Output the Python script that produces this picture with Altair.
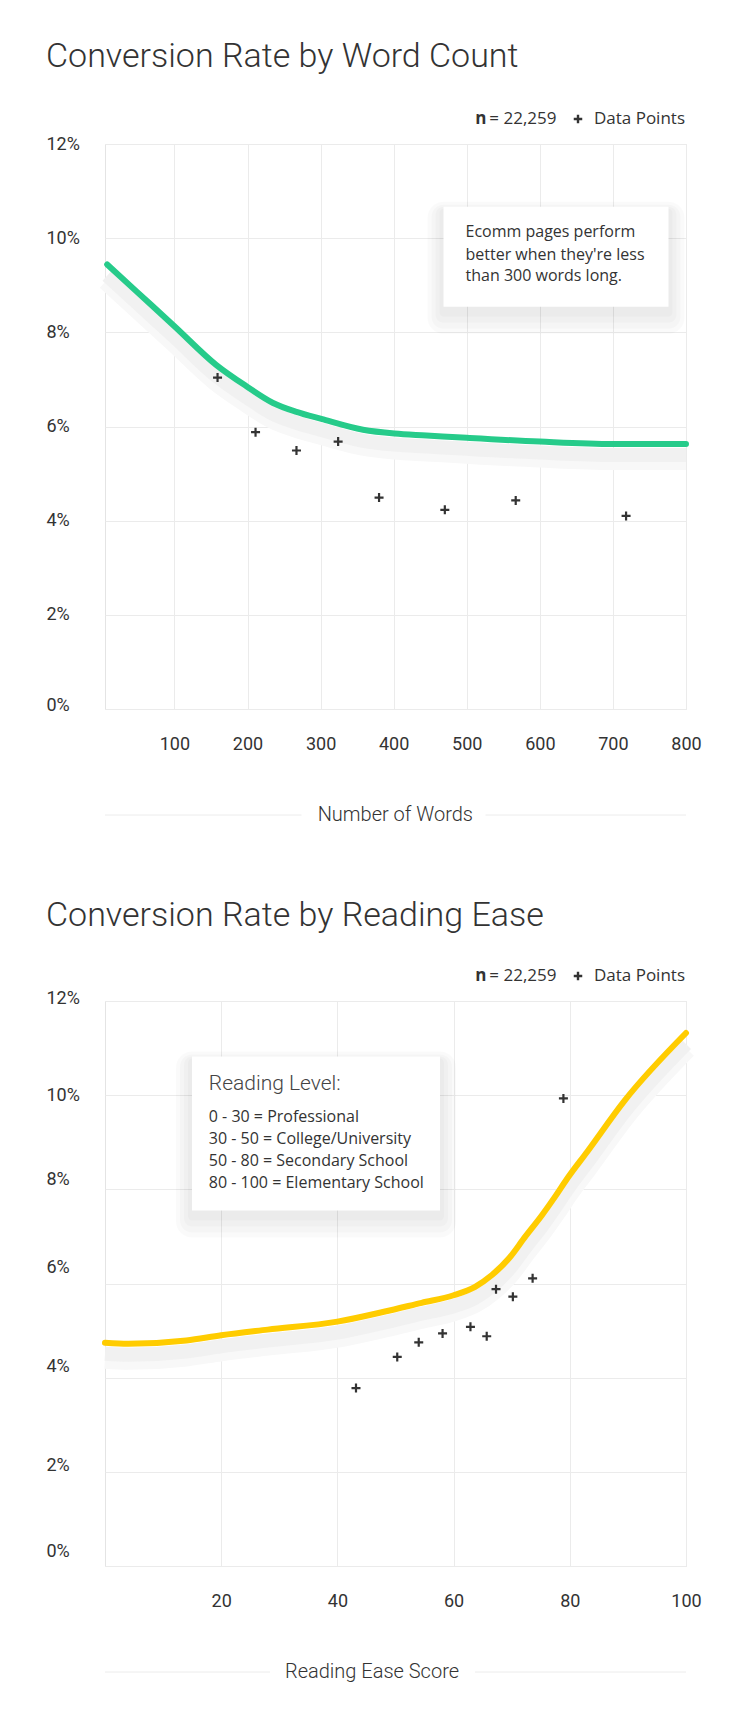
import altair as alt
import pandas as pd

# ---------------- data ----------------
# Chart 1: conversion rate (%) by word count
wc_curve_words = [8, 48, 100, 157, 199, 235, 267, 301, 358, 401, 445, 500, 600, 700, 800]
wc_curve_rate = [9.44, 8.87, 8.13, 7.31, 6.85, 6.50, 6.31, 6.16, 5.93, 5.85, 5.81, 5.76, 5.68, 5.63, 5.63]
wc_point_words = [159, 211, 267, 324, 380, 470, 567, 718]
wc_point_rate = [7.04, 5.88, 5.49, 5.68, 4.49, 4.23, 4.43, 4.10]
wc_ticks = [100, 200, 300, 400, 500, 600, 700, 800]

# Chart 2: conversion rate (%) by reading ease score
re_curve_score = [0, 4, 14, 20, 28, 40, 48, 54.5, 60, 63.7, 66.6, 69.5, 72.3, 75.2, 77.5, 79.5, 83, 89.4, 100]
re_curve_rate = [4.74, 4.72, 4.79, 4.90, 5.02, 5.19, 5.40, 5.59, 5.75, 5.93, 6.18, 6.53, 6.99, 7.45, 7.85, 8.22, 8.80, 9.88, 11.32]
re_point_score = [43.2, 50.3, 54.0, 58.1, 62.9, 65.7, 67.3, 70.2, 73.6, 78.9]
re_point_rate = [3.78, 4.44, 4.75, 4.94, 5.08, 4.88, 5.88, 5.72, 6.11, 9.93]
re_ticks = [20, 40, 60, 80, 100]

rate_ticks = [0, 2, 4, 6, 8, 10, 12]

titles = ["Conversion Rate by Word Count", "Conversion Rate by Reading Ease"]
x_titles = ["Number of Words", "Reading Ease Score"]
sample_label = "= 22,259"
legend_label = "Data Points"
note1_lines = ["Ecomm pages perform", "better when they're less", "than 300 words long."]
note2_head = "Reading Level:"
note2_lines = ["0 - 30 = Professional", "30 - 50 = College/University",
               "50 - 80 = Secondary School", "80 - 100 = Elementary School"]

# ---------------- style ----------------
W, H = 581, 565
TFONT = "Roboto"
BFONT = "Open Sans"
TXT = "#333333"
GRID = "#ebebeb"
CROSS = "M-1,0H1M0,-1V1"
GREEN = "#26CB8A"
YELLOW = "#FFCC00"

one = pd.DataFrame({"k": [0]})


def offset_cond(d):
    return {"condition": [{"test": f"datum.value === {k}", "value": v} for k, v in d.items()],
            "value": 0}


def txt(text, x, y, size, font=BFONT, weight="normal", align="left", baseline="middle", color=TXT):
    return alt.Chart(one).mark_text(
        text=text, font=font, fontSize=size, fontWeight=weight, align=align,
        baseline=baseline, color=color
    ).encode(x=alt.value(x), y=alt.value(y))


def rect(x1, x2, y1, y2, color, opacity=1.0, radius=0):
    return alt.Chart(one).mark_rect(color=color, opacity=opacity, cornerRadius=radius).encode(
        x=alt.value(x1), x2=alt.value(x2), y=alt.value(y1), y2=alt.value(y2))


def hrule(x1, x2, y):
    return alt.Chart(one).mark_rule(color="#ececec", strokeWidth=1).encode(
        x=alt.value(x1), x2=alt.value(x2), y=alt.value(y))


def box(x1, x2, y1, y2):
    layers = []
    for grow, dy in [(16, 11), (12, 10), (8, 8), (4, 6)]:
        layers.append(rect(x1 - grow, x2 + grow, y1 - grow + dy, y2 + grow + dy,
                           "#000000", 0.02, grow))
    layers.append(rect(x1, x2, y1, y2, "#ffffff"))
    return layers


def panel(title, title_y, cx, cy, px, py, xdomain, xticks, xtitle, xtitle_x, gaps,
          color, label_offsets, note_layers):
    curve = pd.DataFrame({"x": cx, "y": cy})
    pts = pd.DataFrame({"x": px, "y": py})
    xs = alt.Scale(domain=xdomain, nice=False, zero=False)
    ys = alt.Scale(domain=[0, 12], nice=False)
    xax = alt.Axis(values=xticks, grid=True, gridColor=GRID, domain=False, ticks=False,
                   labelPadding=35, labelBaseline="middle", labelFont=TFONT, labelFontSize=18,
                   labelColor=TXT, labelFlush=False, labelOverlap=False, title=None)
    yax = alt.Axis(values=rate_ticks, grid=True, gridColor=GRID, domain=False, ticks=False,
                   labelAlign="left", labelPadding=59, labelBaseline="middle",
                   labelExpr="datum.value + '%'", labelFont=TFONT, labelFontSize=18,
                   labelColor=TXT, labelOverlap=False, labelOffset=offset_cond(label_offsets),
                   title=None)
    X = alt.X("x:Q", scale=xs, axis=xax)
    Y = alt.Y("y:Q", scale=ys, axis=yax)
    base = alt.Chart(curve).encode(x=X, y=Y)
    shadow_a = base.mark_line(color="#f8f8f8", strokeWidth=22, yOffset=15, interpolate="monotone",
                              strokeCap="butt", strokeJoin="round")
    shadow_b = base.mark_line(color="#f1f1f1", strokeWidth=14, yOffset=11, interpolate="monotone",
                              strokeCap="butt", strokeJoin="round")
    line = base.mark_line(color=color, strokeWidth=6, interpolate="monotone",
                          strokeCap="round", strokeJoin="round")
    points = alt.Chart(pts).mark_point(shape=CROSS, size=81, filled=False, strokeWidth=2.2,
                                       color=TXT, opacity=1).encode(x=X, y=Y)
    header = [
        txt(legend_label, W - 1, -25, 17, align="right"),
        alt.Chart(one).mark_point(shape=CROSS, size=72, filled=False, strokeWidth=2.4,
                                  color=TXT, opacity=1).encode(x=alt.value(473), y=alt.value(-25)),
        txt(sample_label, 451.5, -25, 17, align="right"),
        txt("n", 381.5, -25, 17, weight="bold", align="right"),
    ]
    ttl = txt(title, -59, title_y, 34, font=TFONT, weight=300, baseline="alphabetic")
    xt = [txt(xtitle, xtitle_x, 671, 20, font=TFONT, weight=300, align="center"),
          hrule(0, gaps[0], 671), hrule(gaps[1], W, 671)]
    layers = [shadow_a, shadow_b] + note_layers[0] + [line, points] + note_layers[1] + header + [ttl] + xt
    return alt.layer(*layers).properties(width=W, height=H)


note1 = (box(338.5, 563.5, 62.7, 162.7),
         [txt(t, 360.5, y, 16) for t, y in zip(note1_lines, [88.4, 110.7, 132.4])])
note2 = (box(87, 335, 55.5, 209.5),
         [txt(note2_head, 103.8, 82.8, 21, font=TFONT, weight=300, color="#444444")] +
         [txt(t, 103.8, y, 16) for t, y in zip(note2_lines, [115.5, 137.8, 159.8, 181.8])])

c1 = panel(titles[0], -77, wc_curve_words, wc_curve_rate, wc_point_words, wc_point_rate,
           [5, 800], wc_ticks, x_titles[0], 290.3, (196.5, 380.5), GREEN, {0: -4}, note1)
c2 = panel(titles[1], -75, re_curve_score, re_curve_rate, re_point_score, re_point_rate,
           [0, 100], re_ticks, x_titles[1], 267, (165, 370), YELLOW,
           {12: -3, 8: -10, 6: -16, 4: -11, 2: -6, 0: -15}, note2)

chart = alt.vconcat(c1, c2, spacing=72).configure(
    padding={"left": 37, "top": 31, "right": 10, "bottom": 10},
    background="white",
).configure_view(stroke="#e4e4e4", strokeWidth=1)

chart.save("out.html", embed_options={"renderer": "svg", "actions": False})
